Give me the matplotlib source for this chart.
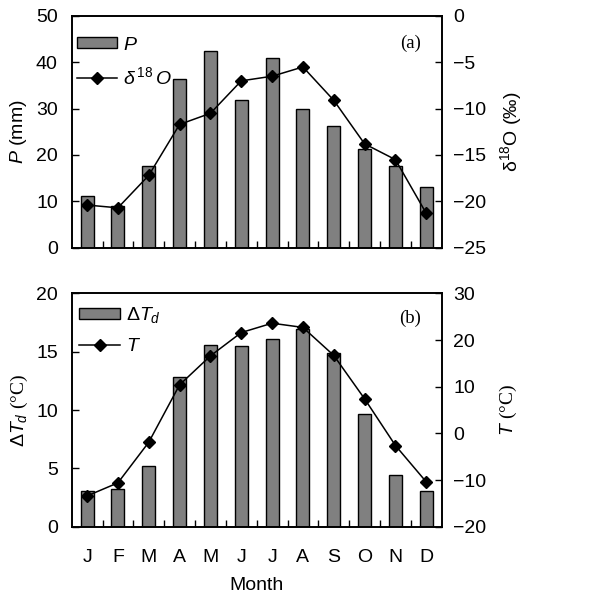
import numpy as np
import matplotlib
matplotlib.use("Agg")
import matplotlib.pyplot as plt

plt.rcParams['font.family'] = ['Liberation Sans', 'DejaVu Sans']
plt.rcParams['mathtext.fontset'] = 'custom'
plt.rcParams['mathtext.rm'] = 'Liberation Sans'
plt.rcParams['mathtext.it'] = 'Liberation Sans:italic'
plt.rcParams['mathtext.sf'] = 'Liberation Serif'
plt.rcParams['mathtext.default'] = 'it'

# monthly data
months = ['J', 'F', 'M', 'A', 'M', 'J', 'J', 'A', 'S', 'O', 'N', 'D']
precip = [11.2, 9.0, 17.6, 36.4, 42.4, 31.9, 40.9, 30.0, 26.2, 21.4, 17.6, 13.1]
d18o = [-20.4, -20.7, -17.2, -11.7, -10.5, -7.0, -6.5, -5.5, -9.1, -13.8, -15.5, -21.3]
dtd = [3.1, 3.25, 5.2, 12.8, 15.6, 15.45, 16.05, 16.95, 14.85, 9.7, 4.45, 3.1]
temp = [-13.4, -10.6, -1.9, 10.4, 16.6, 21.6, 23.6, 22.7, 16.7, 7.4, -2.6, -10.4]

FS = 14
x = np.arange(len(months))

fig = plt.figure(figsize=(6.11, 6.01), dpi=100)
ax1 = fig.add_axes([0.1173, 0.5879, 0.6056, 0.3855])
ax2 = fig.add_axes([0.1173, 0.1236, 0.6056, 0.3883])


def panel(ax, bars, line, ylim_l, yt_l, ylim_r, yt_r, lab_bar, lab_line,
          tag, leg_anchor, tag_pos):
    b = ax.bar(x, bars, width=0.42, color='#808080', edgecolor='black',
               linewidth=1.0)
    ax.set_xlim(-0.5, 11.5)
    ax.set_ylim(*ylim_l)
    ax.set_yticks(yt_l)
    ax.set_xticks(x)
    ax.set_xticks(np.arange(0.5, 11, 1), minor=True)
    ax.tick_params(axis='x', which='major', length=0, labelsize=FS, pad=16)
    ax.tick_params(axis='x', which='minor', direction='in', length=5, width=1)
    ax.tick_params(axis='y', direction='in', length=5, width=1, labelsize=FS, pad=10)
    for s in ax.spines.values():
        s.set_linewidth(1.2)

    tw = ax.twinx()
    ln, = tw.plot(x, line, color='black', linewidth=1.1, marker='D',
                  markersize=6.5)
    tw.set_ylim(*ylim_r)
    tw.set_yticks(yt_r)
    tw.tick_params(axis='y', direction='in', length=5, width=1, labelsize=FS, pad=8.5)
    for s in tw.spines.values():
        s.set_linewidth(1.2)

    ax.legend([b, ln], [lab_bar, lab_line], loc='upper left',
              bbox_to_anchor=leg_anchor, frameon=False, fontsize=FS,
              handlelength=2.1, handleheight=0.5, labelspacing=0.65,
              borderaxespad=0.1, handletextpad=0.3)
    ax.text(tag_pos[0], tag_pos[1], tag, transform=ax.transAxes, fontsize=13.5,
            family='Liberation Serif', ha='center', va='center')
    return tw


tw1 = panel(ax1, precip, d18o, (0, 50), range(0, 51, 10), (-25, 0),
            range(-25, 1, 5), '$P$', r'$\delta^{\,18}\,O$', '(a)',
            (-0.013, 0.952), (0.915, 0.883))
ax1.tick_params(axis='x', which='major', labelbottom=False)
ax1.set_ylabel('$P$ (mm)', fontsize=FS, labelpad=5)
tw1.set_ylabel(r'$\mathrm{δ}^{18}\mathrm{O}$ (‰)', fontsize=FS, rotation=90,
               labelpad=8)

tw2 = panel(ax2, dtd, temp, (0, 20), range(0, 21, 5), (-20, 30),
            range(-20, 31, 10), r'$\Delta T_{d}$', '$T$', '(b)',
            (-0.006, 0.99), (0.915, 0.894))
ax2.set_xticklabels(months)
ax2.set_xlabel('Month', fontsize=FS, labelpad=8)
ax2.set_ylabel(r'$\Delta T_d$ $\mathsf{(°C)}$', fontsize=FS, labelpad=4)
tw2.set_ylabel(r'$T$ $\mathsf{(°C)}$', fontsize=FS, rotation=90, labelpad=8)

fig.savefig('out.png', dpi=100)
